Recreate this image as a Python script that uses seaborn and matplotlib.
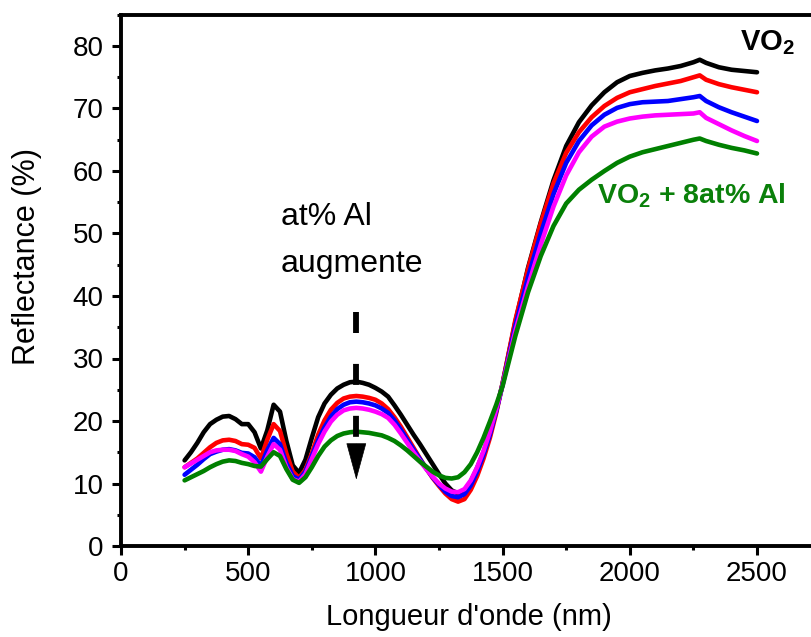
import matplotlib
matplotlib.use("Agg")
import matplotlib.pyplot as plt
from matplotlib.ticker import MultipleLocator
import seaborn as sns
import pandas as pd

# ---------------- data ----------------
wavelength = [250, 275, 300, 325, 350, 375, 400, 425, 450, 475, 500, 525, 550, 575,
              600, 625, 650, 675, 700, 725, 750, 775, 800, 825, 850, 875, 900, 925,
              950, 975, 1000, 1025, 1050, 1075, 1100, 1125, 1150, 1175, 1200, 1225,
              1250, 1275, 1300, 1325, 1350, 1375, 1400, 1425, 1450, 1475, 1500,
              1550, 1600, 1650, 1700, 1750, 1800, 1850, 1900, 1950, 2000, 2050, 2100,
              2150, 2200, 2250, 2275, 2300, 2350, 2400, 2450, 2500]

vo2 = [13.7, 15.0, 16.5, 18.2, 19.5, 20.2, 20.7, 20.8, 20.3, 19.5, 19.5, 18.2, 15.6, 18.5,
       22.6, 21.5, 16.8, 12.9, 11.7, 13.8, 17.3, 20.6, 22.8, 24.2, 25.2, 25.8, 26.2, 26.3,
       26.1, 25.8, 25.3, 24.7, 23.9, 22.5, 21.0, 19.4, 17.8, 16.3, 14.7, 13.1,
       11.5, 10.0, 8.9, 8.4, 8.8, 10.3, 12.5, 15.0, 18.0, 21.7, 26.0,
       35.8, 44.5, 51.8, 58.5, 64.0, 67.8, 70.5, 72.6, 74.2, 75.2, 75.7, 76.1,
       76.4, 76.8, 77.4, 77.8, 77.3, 76.6, 76.2, 76.0, 75.8]

al_a = [12.6, 13.3, 14.0, 14.9, 15.8, 16.5, 16.9, 17.0, 16.8, 16.3, 16.2, 15.7, 14.0, 17.0,
        19.5, 18.4, 14.8, 11.9, 10.9, 12.2, 14.8, 17.8, 20.1, 21.8, 22.9, 23.6, 23.9, 24.0,
        23.9, 23.7, 23.4, 22.8, 21.9, 20.6, 19.1, 17.4, 15.7, 14.0, 12.4, 10.9,
        9.6, 8.4, 7.5, 7.1, 7.5, 9.0, 11.2, 14.0, 17.3, 21.3, 26.0,
        36.1, 44.3, 51.6, 58.0, 62.9, 66.2, 68.6, 70.4, 71.7, 72.6, 73.1, 73.6,
        74.0, 74.4, 75.0, 75.3, 74.6, 73.9, 73.4, 73.0, 72.6]

al_b = [11.4, 12.2, 13.0, 13.9, 14.7, 15.1, 15.4, 15.5, 15.3, 14.9, 14.8, 14.2, 12.8, 15.3,
        17.3, 16.3, 13.3, 11.2, 10.6, 11.9, 14.4, 16.9, 19.0, 20.7, 21.9, 22.6, 23.0, 23.1,
        23.0, 22.8, 22.5, 22.0, 21.3, 20.1, 18.6, 17.0, 15.4, 13.9, 12.4, 11.0,
        9.8, 8.7, 8.0, 7.8, 8.3, 9.7, 11.9, 14.6, 17.8, 21.6, 25.8,
        35.2, 43.0, 50.0, 56.3, 61.3, 64.8, 67.3, 69.0, 70.1, 70.7, 71.0, 71.1,
        71.2, 71.5, 71.8, 72.0, 71.2, 70.2, 69.4, 68.7, 68.0]

al_c = [12.6, 13.2, 13.8, 14.4, 15.0, 15.3, 15.4, 15.4, 15.2, 14.7, 14.3, 13.4, 11.9, 14.3,
        16.3, 15.4, 12.6, 10.7, 10.3, 11.5, 13.9, 16.3, 18.3, 19.9, 21.0, 21.7, 22.0, 22.1,
        22.0, 21.8, 21.5, 21.1, 20.5, 19.4, 18.0, 16.5, 15.0, 13.6, 12.3, 11.1,
        10.0, 9.2, 8.7, 8.6, 9.1, 10.5, 12.6, 15.2, 18.3, 21.9, 25.8,
        34.4, 41.6, 48.2, 54.3, 59.3, 63.0, 65.5, 67.1, 67.9, 68.4, 68.7, 68.9,
        69.0, 69.1, 69.2, 69.4, 68.5, 67.5, 66.5, 65.6, 64.8]

al_8 = [10.5, 11.0, 11.5, 12.0, 12.6, 13.1, 13.5, 13.7, 13.6, 13.3, 13.1, 12.8, 12.7, 13.9,
        15.0, 14.4, 12.3, 10.6, 10.1, 11.0, 12.6, 14.4, 15.9, 16.9, 17.6, 18.0, 18.2, 18.3,
        18.2, 18.1, 17.9, 17.7, 17.3, 16.8, 16.1, 15.3, 14.4, 13.5, 12.7, 11.9,
        11.3, 10.9, 10.8, 11.0, 11.8, 13.1, 15.0, 17.3, 19.9, 22.6, 25.6,
        33.6, 40.6, 46.4, 51.2, 54.8, 57.0, 58.6, 60.0, 61.3, 62.3, 63.0, 63.5,
        64.0, 64.5, 65.0, 65.2, 64.8, 64.2, 63.7, 63.3, 62.8]

series_names = ["VO2", "VO2 + Al (1)", "VO2 + Al (2)", "VO2 + Al (3)", "VO2 + 8at% Al"]
series_values = [vo2, al_a, al_b, al_c, al_8]
series_colors = ["#000000", "#ff0000", "#0000ff", "#ff00ff", "#008000"]

x_ticks = [0, 500, 1000, 1500, 2000, 2500]
y_ticks = [0, 10, 20, 30, 40, 50, 60, 70, 80]

# ---------------- figure ----------------
sns.set_style("ticks")
plt.rcParams["font.family"] = ["Liberation Sans", "DejaVu Sans"]
plt.rcParams["mathtext.fontset"] = "custom"
plt.rcParams["mathtext.rm"] = "Liberation Sans"
plt.rcParams["mathtext.bf"] = "Liberation Sans:bold"
plt.rcParams["text.color"] = "black"
plt.rcParams["axes.labelcolor"] = "black"
plt.rcParams["xtick.color"] = "black"
plt.rcParams["ytick.color"] = "black"
plt.rcParams["lines.solid_joinstyle"] = "round"

frames = []
for name, vals in zip(series_names, series_values):
    frames.append(pd.DataFrame({"wavelength": wavelength, "R": vals, "sample": name}))
df = pd.concat(frames, ignore_index=True)

fig = plt.figure(figsize=(8.11, 6.37), dpi=100)
ax = fig.add_axes([121 / 811, 1 - 546 / 637, 699.6 / 811, 531.25 / 637])

sns.lineplot(data=df, x="wavelength", y="R", hue="sample", hue_order=series_names,
             palette=dict(zip(series_names, series_colors)), estimator=None,
             linewidth=3.3, legend=False, ax=ax)

ax.set_xlim(0, 2750)
ax.set_ylim(0, 85)
ax.set_xticks(x_ticks)
ax.set_yticks(y_ticks)
ax.xaxis.set_minor_locator(MultipleLocator(250))
ax.yaxis.set_minor_locator(MultipleLocator(5))
ax.tick_params(which="major", direction="out", length=6.5, width=2.2,
               labelsize=20, color="black", labelcolor="black")
ax.tick_params(axis="x", which="major", pad=4)
ax.tick_params(axis="y", which="major", pad=6)
ax.tick_params(which="minor", direction="out", length=3, width=2.2, color="black")
for side in ["left", "bottom", "top"]:
    ax.spines[side].set_linewidth(2.8)
    ax.spines[side].set_color("black")
    ax.spines[side].set_visible(True)
ax.spines["right"].set_visible(False)

ax.set_xlabel("Longueur d'onde (nm)", fontsize=21, color="black")
ax.set_ylabel("Reflectance (%)", fontsize=22, color="black")
ax.xaxis.set_label_coords(0.497, -0.108)
ax.yaxis.set_label_coords(-0.113, 0.544)

# annotations
ax.text(629, 51.4, "at% Al", fontsize=23, ha="left", va="baseline")
ax.text(629, 43.8, "augmente", fontsize=23, ha="left", va="baseline")
ax.plot([925, 925], [37.4, 16.3], color="black", linewidth=4.2,
        linestyle=(0, (3.6, 5.3)), solid_capstyle="butt", dash_capstyle="butt")
ax.annotate("", xy=(925, 10.6), xytext=(925, 16.3),
            arrowprops=dict(arrowstyle="-|>,head_length=2.5,head_width=0.68",
                            mutation_scale=10, color="black", lw=0.5,
                            shrinkA=0, shrinkB=0))

ax.text(2433, 79.4, r"VO$_\mathbf{2}$", fontsize=21, fontweight="bold",
        color="black", ha="left", va="baseline")
ax.text(1871, 54.9, r"VO$_\mathbf{2}$ + 8at% Al", fontsize=20.5, fontweight="bold",
        color="#0a800a", ha="left", va="baseline")

fig.savefig("out.png", dpi=100)
